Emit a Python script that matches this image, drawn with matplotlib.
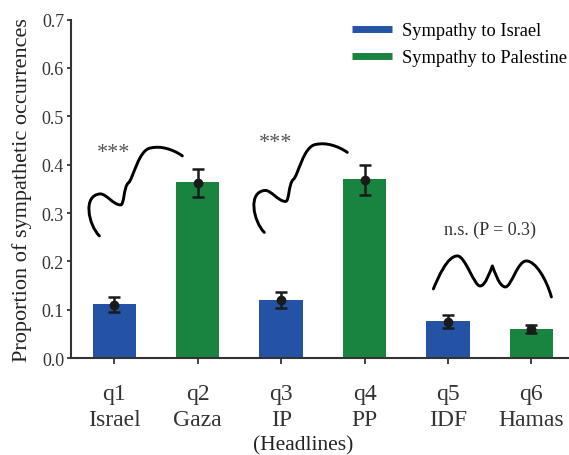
import numpy as np
import matplotlib.pyplot as plt
from matplotlib.path import Path
from matplotlib.patches import PathPatch
from matplotlib.lines import Line2D

plt.rcParams['font.family'] = ['Liberation Serif', 'DejaVu Serif']

# headlines and measured proportions
questions = ["q1", "q2", "q3", "q4", "q5", "q6"]
headlines = ["Israel", "Gaza", "IP", "PP", "IDF", "Hamas"]
bar_vals = [0.112, 0.364, 0.121, 0.370, 0.077, 0.061]
mean_vals = [0.110, 0.362, 0.120, 0.368, 0.074, 0.060]
err_low = [0.095, 0.333, 0.104, 0.337, 0.062, 0.051]
err_high = [0.126, 0.391, 0.137, 0.400, 0.089, 0.068]
groups = ["israel", "palestine", "israel", "palestine", "israel", "palestine"]

blue = "#2453a6"
green = "#19843f"
colors = [blue if g == "israel" else green for g in groups]

# hand-drawn squiggles (cubic bezier: start, then 3 points per segment)
squig_a = [(-0.180, 0.2526),
           (-0.312, 0.2754), (-0.384, 0.3375), (-0.168, 0.3395),
           (-0.096, 0.3395), (-0.012, 0.3168), (0.072, 0.3168),
           (0.120, 0.3147), (0.108, 0.3540), (0.168, 0.3623),
           (0.228, 0.3706), (0.288, 0.4327), (0.444, 0.4348),
           (0.552, 0.4389), (0.695, 0.4327), (0.815, 0.4182)]
squig_shift = (1.978, 0.0072)
squig_b = [(3.825, 0.1429),
           (3.885, 0.1677), (3.993, 0.2112), (4.113, 0.2112),
           (4.209, 0.2112), (4.317, 0.1470), (4.388, 0.1491),
           (4.448, 0.1491), (4.508, 0.1801), (4.532, 0.1905),
           (4.556, 0.1801), (4.616, 0.1470), (4.688, 0.1470),
           (4.760, 0.1470), (4.832, 0.2008), (4.940, 0.2008),
           (5.048, 0.2008), (5.180, 0.1636), (5.240, 0.1263)]


def squiggle(ax, pts, dx=0.0, dy=0.0):
    verts = [(x + dx, y + dy) for x, y in pts]
    codes = [Path.MOVETO] + [Path.CURVE4] * (len(verts) - 1)
    ax.add_patch(PathPatch(Path(verts, codes), fill=False, lw=2.1,
                           edgecolor="black", capstyle="round", joinstyle="round"))


fig = plt.figure(figsize=(5.69, 4.56), dpi=100)
ax = fig.add_axes([0.1248, 0.2127, 0.8765, 0.742])

x = np.arange(len(questions))
ax.bar(x, bar_vals, width=0.52, color=colors)
yerr = [np.array(mean_vals) - np.array(err_low),
        np.array(err_high) - np.array(mean_vals)]
ax.errorbar(x, mean_vals, yerr=yerr, fmt="o", color="#1a1a1a", ms=6,
            elinewidth=1.8, capsize=4.5, capthick=1.8)

squiggle(ax, squig_a)
squiggle(ax, squig_a, *squig_shift)
squiggle(ax, squig_b)

ax.text(-0.01, 0.416, "***", ha="center", va="baseline", fontsize=16, color="#555555")
ax.text(1.93, 0.437, "***", ha="center", va="baseline", fontsize=16, color="#555555")
ax.text(4.5, 0.267, "n.s. (P = 0.3)", ha="center", va="center", fontsize=13, color="#333333")

ax.set_xlim(-0.52, 5.46)
ax.set_ylim(0, 0.7)
ax.set_yticks(np.arange(0, 0.71, 0.1))
ax.set_yticklabels([f"{v:.1f}" for v in np.arange(0, 0.71, 0.1)], fontsize=13)
ax.set_xticks(x)
ax.set_xticklabels([f"{q}\n{h}" for q, h in zip(questions, headlines)],
                   fontsize=17, linespacing=1.3)
ax.tick_params(axis="y", length=3, width=1.3, pad=2, colors="#333333")
ax.tick_params(axis="x", length=4, width=1.3, pad=14, colors="#333333")
for s in ["top", "right"]:
    ax.spines[s].set_visible(False)
for s in ["left", "bottom"]:
    ax.spines[s].set_linewidth(1.5)
    ax.spines[s].set_color("#333333")

ax.set_ylabel("Proportion of sympathetic occurrences", fontsize=16, color="#222222")
ax.yaxis.set_label_coords(-0.078, 0.5)
ax.set_xlabel("(Headlines)", fontsize=15.5, color="#222222", va="center")
ax.xaxis.set_label_coords(0.465, -0.256)

handles = [Line2D([], [], color=blue, lw=5, solid_capstyle="butt"),
           Line2D([], [], color=green, lw=5, solid_capstyle="butt")]
ax.legend(handles, ["Sympathy to Israel", "Sympathy to Palestine"], fontsize=13.2,
          frameon=False, loc="upper left", bbox_to_anchor=(0.537, 1.03),
          handlelength=2.2, handletextpad=0.53, labelspacing=0.55, borderpad=0.2)

fig.savefig("out.png", dpi=100)
